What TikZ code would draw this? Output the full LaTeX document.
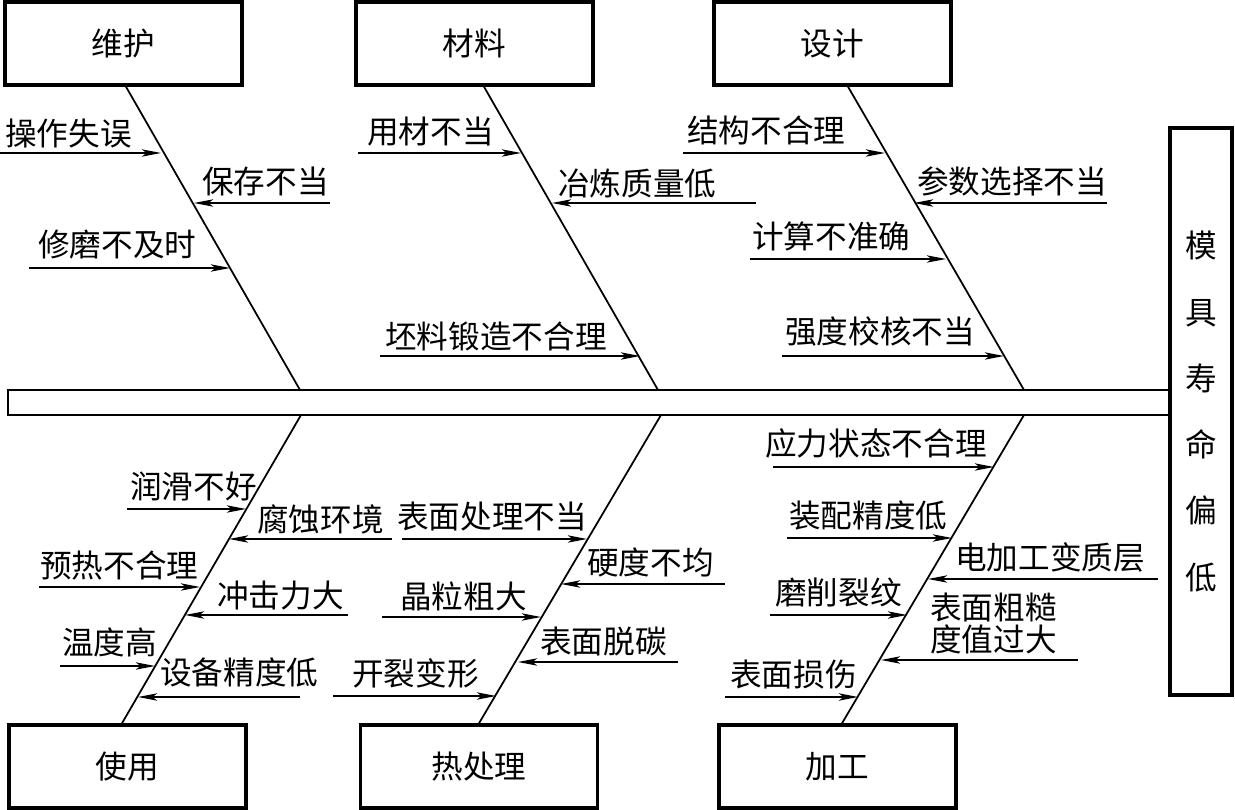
\documentclass[tikz,border=0pt]{standalone}
\usepackage{fontspec}
\usepackage{tikz}
\usetikzlibrary{arrows.meta, positioning, calc}
\newfontfamily\cjkfont{Noto Sans CJK SC}

\begin{document}
\begin{tikzpicture}[x=0.02cm, y=-0.02cm,
    catbox/.style={draw, line width=1.8pt, minimum width=4.74cm, minimum height=1.66cm,
        font=\cjkfont\fontsize{18pt}{20pt}\selectfont},
    cause/.style={anchor=west, inner sep=0pt, font=\cjkfont\fontsize{18pt}{18.2pt}\selectfont},
    bone/.style={line width=1pt},
    arr/.style={line width=0.7pt, -{Stealth[length=11pt, width=4.2pt, inset=2.8pt]}}]
    \useasboundingbox (0,0) rectangle (1235,810);

    % Spina centrale e effetto
    \coordinate (sp1) at (8,390);
    \coordinate (sp2) at (1170,415);
    \draw[line width=1.6pt] (sp1) rectangle (sp2);
    \node[draw, line width=1.8pt, minimum width=1.24cm, minimum height=11.34cm, align=center,
        font=\cjkfont\fontsize{18pt}{37.7pt}\selectfont] (effect) at (1201,411.5)
        {模\\具\\寿\\命\\偏\\低};

    % Categorie
    \node[catbox] (weihu) at (123.5,43.5) {维护};
    \node[catbox] (cailiao) at (474.5,43.5) {材料};
    \node[catbox] (sheji) at (832.5,43.5) {设计};
    \node[catbox] (shiyong) at (127.5,766.5) {使用};
    \node[catbox] (rechuli) at (479,766.5) {热处理};
    \node[catbox] (jiagong) at (837.5,766.5) {加工};

    % Lische
    \coordinate (wh1) at (125,85);   \coordinate (wh2) at (300,390);
    \coordinate (cl1) at (483,85);   \coordinate (cl2) at (658,390);
    \coordinate (sj1) at (847,85);   \coordinate (sj2) at (1024,390);
    \coordinate (sy1) at (301,415);  \coordinate (sy2) at (121,725);
    \coordinate (rc1) at (661,415);  \coordinate (rc2) at (478,725);
    \coordinate (jg1) at (1024,415); \coordinate (jg2) at (841,725);
    \draw[bone] (wh1) -- (wh2);
    \draw[bone] (cl1) -- (cl2);
    \draw[bone] (sj1) -- (sj2);
    \draw[bone] (sy1) -- (sy2);
    \draw[bone] (rc1) -- (rc2);
    \draw[bone] (jg1) -- (jg2);

    % Cause: manutenzione
    \coordinate (a1) at (0,153);    \coordinate (b1) at (161,153);
    \draw[arr] (a1) -- (b1);
    \node[cause] (t1) at (5,134) {操作失误};
    \coordinate (a2) at (330,203);  \coordinate (b2) at (194,203);
    \draw[arr] (a2) -- (b2);
    \node[cause] (t2) at (202,182) {保存不当};
    \coordinate (a3) at (29,268);   \coordinate (b3) at (230,268);
    \draw[arr] (a3) -- (b3);
    \node[cause] (t3) at (38,245) {修磨不及时};

    % Cause: materiale
    \coordinate (a4) at (358,153);  \coordinate (b4) at (521,153);
    \draw[arr] (a4) -- (b4);
    \node[cause] (t4) at (367,132) {用材不当};
    \coordinate (a5) at (756,203);  \coordinate (b5) at (552,203);
    \draw[arr] (a5) -- (b5);
    \node[cause] (t5) at (558,184) {冶炼质量低};
    \coordinate (a6) at (380,356);  \coordinate (b6) at (640,356);
    \draw[arr] (a6) -- (b6);
    \node[cause] (t6) at (385,336) {坯料锻造不合理};

    % Cause: progetto
    \coordinate (a7) at (683,153);  \coordinate (b7) at (885,153);
    \draw[arr] (a7) -- (b7);
    \node[cause] (t7) at (687,130) {结构不合理};
    \coordinate (a8) at (1107,203); \coordinate (b8) at (914,203);
    \draw[arr] (a8) -- (b8);
    \node[cause] (t8) at (917,181) {参数选择不当};
    \coordinate (a9) at (750,259);  \coordinate (b9) at (946,259);
    \draw[arr] (a9) -- (b9);
    \node[cause] (t9) at (752,236) {计算不准确};
    \coordinate (a10) at (782,356); \coordinate (b10) at (1004,356);
    \draw[arr] (a10) -- (b10);
    \node[cause] (t10) at (785,332) {强度校核不当};

    % Cause: uso
    \coordinate (a11) at (127,509); \coordinate (b11) at (246,509);
    \draw[arr] (a11) -- (b11);
    \node[cause] (t11) at (130,486) {润滑不好};
    \coordinate (a12) at (392,539); \coordinate (b12) at (229,539);
    \draw[arr] (a12) -- (b12);
    \node[cause] (t12) at (257,519) {腐蚀环境};
    \coordinate (a13) at (39,587);  \coordinate (b13) at (200,587);
    \draw[arr] (a13) -- (b13);
    \node[cause] (t13) at (40,566) {预热不合理};
    \coordinate (a14) at (348,615); \coordinate (b14) at (185,615);
    \draw[arr] (a14) -- (b14);
    \node[cause] (t14) at (217,596) {冲击力大};
    \coordinate (a15) at (60,666);  \coordinate (b15) at (155,666);
    \draw[arr] (a15) -- (b15);
    \node[cause] (t15) at (62,642) {温度高};
    \coordinate (a16) at (300,697); \coordinate (b16) at (138,697);
    \draw[arr] (a16) -- (b16);
    \node[cause] (t16) at (160,672) {设备精度低};

    % Cause: trattamento termico
    \coordinate (a17) at (402,539); \coordinate (b17) at (587,539);
    \draw[arr] (a17) -- (b17);
    \node[cause] (t17) at (397,517) {表面处理不当};
    \coordinate (a18) at (725,584); \coordinate (b18) at (561,584);
    \draw[arr] (a18) -- (b18);
    \node[cause] (t18) at (587,562) {硬度不均};
    \coordinate (a19) at (382,617); \coordinate (b19) at (541,617);
    \draw[arr] (a19) -- (b19);
    \node[cause] (t19) at (400,596) {晶粒粗大};
    \coordinate (a20) at (678,662); \coordinate (b20) at (518,662);
    \draw[arr] (a20) -- (b20);
    \node[cause] (t20) at (540,641) {表面脱碳};
    \coordinate (a21) at (333,696); \coordinate (b21) at (496,696);
    \draw[arr] (a21) -- (b21);
    \node[cause] (t21) at (352,673) {开裂变形};

    % Cause: lavorazione
    \coordinate (a22) at (773,467);  \coordinate (b22) at (994,467);
    \draw[arr] (a22) -- (b22);
    \node[cause] (t22) at (765,443) {应力状态不合理};
    \coordinate (a23) at (787,538);  \coordinate (b23) at (952,538);
    \draw[arr] (a23) -- (b23);
    \node[cause] (t23) at (789,515) {装配精度低};
    \coordinate (a24) at (1158,579); \coordinate (b24) at (928,579);
    \draw[arr] (a24) -- (b24);
    \node[cause] (t24) at (955,557) {电加工变质层};
    \coordinate (a25) at (770,615);  \coordinate (b25) at (907,615);
    \draw[arr] (a25) -- (b25);
    \node[cause] (t25) at (775,593) {磨削裂纹};
    \coordinate (a26) at (1078,660); \coordinate (b26) at (881,660);
    \draw[arr] (a26) -- (b26);
    \node[cause, align=left] (t26) at (930,623) {表面粗糙\\度值过大};
    \coordinate (a27) at (725,697);  \coordinate (b27) at (858,697);
    \draw[arr] (a27) -- (b27);
    \node[cause] (t27) at (730,675) {表面损伤};
\end{tikzpicture}
\end{document}
